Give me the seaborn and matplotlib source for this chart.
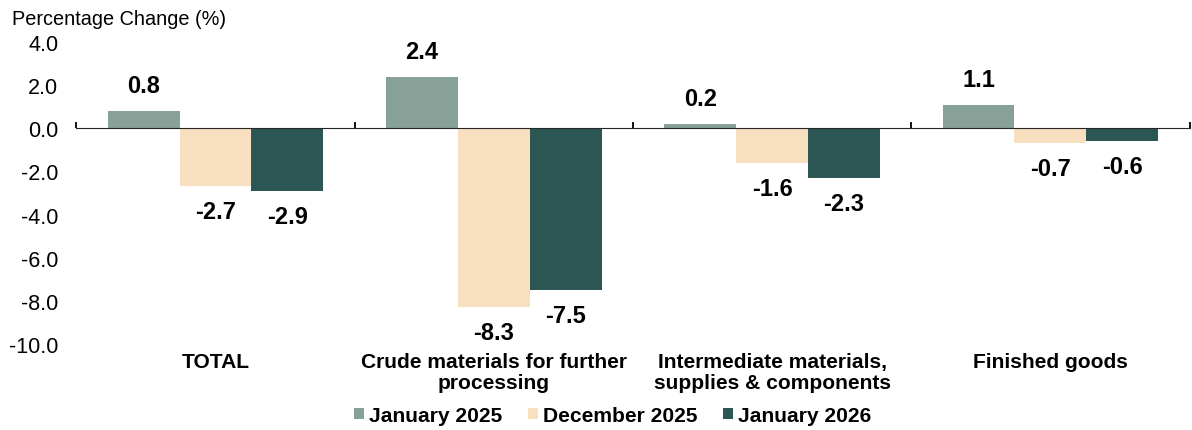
import seaborn as sns
import matplotlib.pyplot as plt
import pandas as pd

categories = ['TOTAL', 'Crude materials for further\nprocessing',
              'Intermediate materials,\nsupplies & components', 'Finished goods']
series = ['January 2025', 'December 2025', 'January 2026']
jan_2025 = [0.8, 2.4, 0.2, 1.1]
dec_2025 = [-2.7, -8.3, -1.6, -0.7]
jan_2026 = [-2.9, -7.5, -2.3, -0.6]
colors = ['#87a198', '#f7dfc0', '#2c5654']

df = pd.DataFrame({
    'category': categories * 3,
    'series': [s for s in series for _ in categories],
    'value': jan_2025 + dec_2025 + jan_2026,
})

sns.set_style('white')
plt.rcParams['font.family'] = ['Liberation Sans', 'DejaVu Sans']
plt.rcParams['text.color'] = 'black'
plt.rcParams['xtick.color'] = 'black'
plt.rcParams['ytick.color'] = 'black'

fig = plt.figure(figsize=(11.92, 4.31), dpi=100)
ax = fig.add_axes([0.064, 0.2, 0.934, 0.7])

sns.barplot(data=df, x='category', y='value', hue='series', order=categories,
            hue_order=series, palette=colors, width=0.775, saturation=1,
            linewidth=0, ax=ax, legend=True)

for cont in ax.containers:
    vals = cont.datavalues
    pos_lbl = [f'{v:.1f}' if v >= 0 else '' for v in vals]
    neg_lbl = [f'{v:.1f}' if v < 0 else '' for v in vals]
    ax.bar_label(cont, labels=pos_lbl, padding=10, fontsize=17, fontweight='bold')
    ax.bar_label(cont, labels=neg_lbl, padding=10, fontsize=17, fontweight='bold')

handles, labels = ax.get_legend_handles_labels()
ax.get_legend().remove()

ax.set_ylim(-10, 4)
ax.set_xlim(-0.5, 3.5)
yt = [4, 2, 0, -2, -4, -6, -8, -10]
ax.set_yticks(yt)
ax.set_yticklabels([f'{v:.1f}' for v in yt])
ax.tick_params(axis='y', length=0, pad=13, labelsize=15.5)
ax.tick_params(axis='x', length=0, pad=6, labelsize=15.1)
for lbl in ax.get_xticklabels():
    lbl.set_fontweight('bold')
    lbl.set_linespacing(1.1)
ax.set_xlabel('')
ax.set_ylabel('')
for s in ax.spines.values():
    s.set_visible(False)

# zero line with category boundary ticks
sec = ax.secondary_xaxis(10 / 14)
sec.set_zorder(5)
sec.set_xticks([-0.5, 0.5, 1.5, 2.5, 3.5])
sec.set_xticklabels([])
sec.tick_params(axis='x', direction='out', length=4, width=1.3, color='black')
sec.spines['bottom'].set_linewidth(1.4)
sec.spines['bottom'].set_color('black')

fig.text(0.01, 0.955, 'Percentage Change (%)', fontsize=14.3, va='center', ha='left')

fig.legend(handles, labels, loc='lower center', bbox_to_anchor=(0.514, -0.032),
           ncol=3, frameon=False, handlelength=0.48, handleheight=0.48,
           handletextpad=0.25, columnspacing=1.2,
           prop={'size': 15.1, 'weight': 'bold'})

fig.savefig('out.png', dpi=100)
